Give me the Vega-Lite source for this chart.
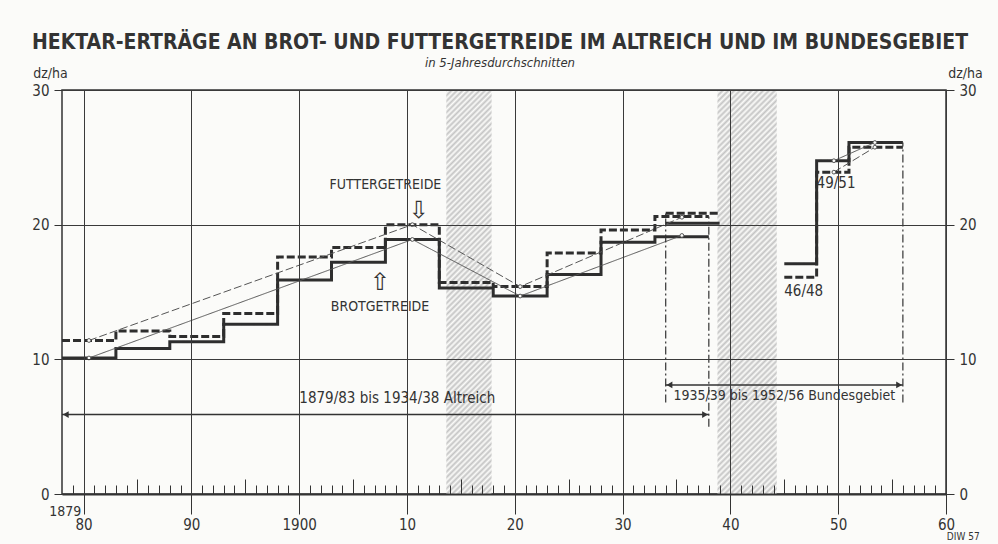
{
  "$schema": "https://vega.github.io/schema/vega-lite/v6.json",
  "width": 884,
  "height": 404,
  "autosize": {"type": "none"},
  "padding": {"left": 62, "top": 90, "right": 52, "bottom": 50},
  "background": "#fbfbf9",
  "config": {
    "font": "DejaVu Sans Condensed, Liberation Sans Narrow, sans-serif",
    "view": {"stroke": "#333333", "strokeWidth": 1.5},
    "axis": {"labelColor": "#333333", "titleColor": "#333333", "labelFont": "DejaVu Sans Condensed, sans-serif", "titleFont": "DejaVu Sans Condensed, sans-serif", "titleFontWeight": "normal"}
  },
  "title": {
    "text": "HEKTAR-ERTRÄGE AN BROT- UND FUTTERGETREIDE IM ALTREICH UND IM BUNDESGEBIET",
    "subtitle": "in 5-Jahresdurchschnitten",
    "anchor": "middle",
    "dx": -4,
    "offset": -4,
    "font": "DejaVu Sans Condensed, sans-serif",
    "fontSize": 21,
    "fontWeight": "bold",
    "color": "#333333",
    "subtitleFont": "DejaVu Sans Condensed, sans-serif",
    "subtitleFontSize": 13,
    "subtitleFontStyle": "italic",
    "subtitleColor": "#333333",
    "subtitlePadding": 4
  },
  "datasets": {
    "wars": [
      {"war": "1914-18", "start": 1913.65, "end": 1917.85},
      {"war": "1939-45", "start": 1938.8, "end": 1944.3}
    ],
    "steps": [
      {"g": "Brot", "line": "BA", "x": 1878, "v": 10.1},
      {"g": "Brot", "line": "BA", "x": 1883, "v": 10.8},
      {"g": "Brot", "line": "BA", "x": 1888, "v": 11.3},
      {"g": "Brot", "line": "BA", "x": 1893, "v": 12.6},
      {"g": "Brot", "line": "BA", "x": 1898, "v": 15.9},
      {"g": "Brot", "line": "BA", "x": 1903, "v": 17.2},
      {"g": "Brot", "line": "BA", "x": 1908, "v": 18.9},
      {"g": "Brot", "line": "BA", "x": 1913, "v": 15.3},
      {"g": "Brot", "line": "BA", "x": 1918, "v": 14.7},
      {"g": "Brot", "line": "BA", "x": 1923, "v": 16.3},
      {"g": "Brot", "line": "BA", "x": 1928, "v": 18.7},
      {"g": "Brot", "line": "BA", "x": 1933, "v": 19.1},
      {"g": "Brot", "line": "BA", "x": 1938, "v": 19.1},
      {"g": "Futter", "line": "FA", "x": 1878, "v": 11.4},
      {"g": "Futter", "line": "FA", "x": 1883, "v": 12.1},
      {"g": "Futter", "line": "FA", "x": 1888, "v": 11.7},
      {"g": "Futter", "line": "FA", "x": 1893, "v": 13.4},
      {"g": "Futter", "line": "FA", "x": 1898, "v": 17.6},
      {"g": "Futter", "line": "FA", "x": 1903, "v": 18.3},
      {"g": "Futter", "line": "FA", "x": 1908, "v": 20.0},
      {"g": "Futter", "line": "FA", "x": 1913, "v": 15.7},
      {"g": "Futter", "line": "FA", "x": 1918, "v": 15.4},
      {"g": "Futter", "line": "FA", "x": 1923, "v": 17.9},
      {"g": "Futter", "line": "FA", "x": 1928, "v": 19.6},
      {"g": "Futter", "line": "FA", "x": 1933, "v": 20.6},
      {"g": "Futter", "line": "FA", "x": 1938, "v": 20.6},
      {"g": "Brot", "line": "BB1", "x": 1934, "v": 20.1},
      {"g": "Brot", "line": "BB1", "x": 1939, "v": 20.1},
      {"g": "Futter", "line": "FB1", "x": 1934, "v": 20.85},
      {"g": "Futter", "line": "FB1", "x": 1939, "v": 20.85},
      {"g": "Brot", "line": "BB2", "x": 1945, "v": 17.1},
      {"g": "Brot", "line": "BB2", "x": 1948, "v": 24.75},
      {"g": "Brot", "line": "BB2", "x": 1951, "v": 26.1},
      {"g": "Brot", "line": "BB2", "x": 1956, "v": 26.1},
      {"g": "Futter", "line": "FB2", "x": 1945, "v": 16.1},
      {"g": "Futter", "line": "FB2", "x": 1948, "v": 23.9},
      {"g": "Futter", "line": "FB2", "x": 1951, "v": 25.75},
      {"g": "Futter", "line": "FB2", "x": 1956, "v": 25.75}
    ],
    "trend": [
      {"g": "Brot", "line": "BA", "x": 1880.5, "v": 10.1},
      {"g": "Brot", "line": "BA", "x": 1910.5, "v": 18.9},
      {"g": "Brot", "line": "BA", "x": 1920.5, "v": 14.7},
      {"g": "Brot", "line": "BA", "x": 1935.5, "v": 19.2},
      {"g": "Futter", "line": "FA", "x": 1880.5, "v": 11.4},
      {"g": "Futter", "line": "FA", "x": 1910.5, "v": 20.0},
      {"g": "Futter", "line": "FA", "x": 1920.5, "v": 15.4},
      {"g": "Futter", "line": "FA", "x": 1935.5, "v": 20.55},
      {"g": "Brot", "line": "BB", "x": 1949.6, "v": 24.75},
      {"g": "Brot", "line": "BB", "x": 1953.4, "v": 26.1},
      {"g": "Futter", "line": "FB", "x": 1949.6, "v": 23.9},
      {"g": "Futter", "line": "FB", "x": 1953.4, "v": 25.75}
    ],
    "markers": [
      {"x": 1938, "a": 5.0, "b": 20.6},
      {"x": 1934, "a": 6.8, "b": 20.85},
      {"x": 1956, "a": 6.8, "b": 26.1}
    ],
    "spans": [
      {"span": "Altreich", "from": 1878, "to": 1938, "y": 5.9},
      {"span": "Bundesgebiet", "from": 1934, "to": 1956, "y": 8.1}
    ],
    "heads": [
      {"x": 1878.35, "y": 5.9, "dir": "left"},
      {"x": 1937.65, "y": 5.9, "dir": "right"},
      {"x": 1934.35, "y": 8.1, "dir": "left"},
      {"x": 1955.65, "y": 8.1, "dir": "right"}
    ]
  },
  "resolve": {"axis": {"x": "independent", "y": "independent"}},
  "layer": [
    {
      "data": {"name": "wars"},
      "transform": [{"filter": "datum.war == '1914-18'"}],
      "mark": {"type": "rect", "fill": {"gradient": "linear", "x1": 0, "y1": 0, "x2": 0.1232, "y2": 1.0983, "stops": [
        {"offset":0,"color":"#c4c4c4"},{"offset":0.00625,"color":"#fbfbf9"},{"offset":0.0125,"color":"#c4c4c4"},{"offset":0.01875,"color":"#fbfbf9"},{"offset":0.025,"color":"#c4c4c4"},{"offset":0.03125,"color":"#fbfbf9"},{"offset":0.0375,"color":"#c4c4c4"},{"offset":0.04375,"color":"#fbfbf9"},
        {"offset":0.05,"color":"#c4c4c4"},{"offset":0.05625,"color":"#fbfbf9"},{"offset":0.0625,"color":"#c4c4c4"},{"offset":0.06875,"color":"#fbfbf9"},{"offset":0.075,"color":"#c4c4c4"},{"offset":0.08125,"color":"#fbfbf9"},{"offset":0.0875,"color":"#c4c4c4"},{"offset":0.09375,"color":"#fbfbf9"},
        {"offset":0.1,"color":"#c4c4c4"},{"offset":0.10625,"color":"#fbfbf9"},{"offset":0.1125,"color":"#c4c4c4"},{"offset":0.11875,"color":"#fbfbf9"},{"offset":0.125,"color":"#c4c4c4"},{"offset":0.13125,"color":"#fbfbf9"},{"offset":0.1375,"color":"#c4c4c4"},{"offset":0.14375,"color":"#fbfbf9"},
        {"offset":0.15,"color":"#c4c4c4"},{"offset":0.15625,"color":"#fbfbf9"},{"offset":0.1625,"color":"#c4c4c4"},{"offset":0.16875,"color":"#fbfbf9"},{"offset":0.175,"color":"#c4c4c4"},{"offset":0.18125,"color":"#fbfbf9"},{"offset":0.1875,"color":"#c4c4c4"},{"offset":0.19375,"color":"#fbfbf9"},
        {"offset":0.2,"color":"#c4c4c4"},{"offset":0.20625,"color":"#fbfbf9"},{"offset":0.2125,"color":"#c4c4c4"},{"offset":0.21875,"color":"#fbfbf9"},{"offset":0.225,"color":"#c4c4c4"},{"offset":0.23125,"color":"#fbfbf9"},{"offset":0.2375,"color":"#c4c4c4"},{"offset":0.24375,"color":"#fbfbf9"},
        {"offset":0.25,"color":"#c4c4c4"},{"offset":0.25625,"color":"#fbfbf9"},{"offset":0.2625,"color":"#c4c4c4"},{"offset":0.26875,"color":"#fbfbf9"},{"offset":0.275,"color":"#c4c4c4"},{"offset":0.28125,"color":"#fbfbf9"},{"offset":0.2875,"color":"#c4c4c4"},{"offset":0.29375,"color":"#fbfbf9"},
        {"offset":0.3,"color":"#c4c4c4"},{"offset":0.30625,"color":"#fbfbf9"},{"offset":0.3125,"color":"#c4c4c4"},{"offset":0.31875,"color":"#fbfbf9"},{"offset":0.325,"color":"#c4c4c4"},{"offset":0.33125,"color":"#fbfbf9"},{"offset":0.3375,"color":"#c4c4c4"},{"offset":0.34375,"color":"#fbfbf9"},
        {"offset":0.35,"color":"#c4c4c4"},{"offset":0.35625,"color":"#fbfbf9"},{"offset":0.3625,"color":"#c4c4c4"},{"offset":0.36875,"color":"#fbfbf9"},{"offset":0.375,"color":"#c4c4c4"},{"offset":0.38125,"color":"#fbfbf9"},{"offset":0.3875,"color":"#c4c4c4"},{"offset":0.39375,"color":"#fbfbf9"},
        {"offset":0.4,"color":"#c4c4c4"},{"offset":0.40625,"color":"#fbfbf9"},{"offset":0.4125,"color":"#c4c4c4"},{"offset":0.41875,"color":"#fbfbf9"},{"offset":0.425,"color":"#c4c4c4"},{"offset":0.43125,"color":"#fbfbf9"},{"offset":0.4375,"color":"#c4c4c4"},{"offset":0.44375,"color":"#fbfbf9"},
        {"offset":0.45,"color":"#c4c4c4"},{"offset":0.45625,"color":"#fbfbf9"},{"offset":0.4625,"color":"#c4c4c4"},{"offset":0.46875,"color":"#fbfbf9"},{"offset":0.475,"color":"#c4c4c4"},{"offset":0.48125,"color":"#fbfbf9"},{"offset":0.4875,"color":"#c4c4c4"},{"offset":0.49375,"color":"#fbfbf9"},
        {"offset":0.5,"color":"#c4c4c4"},{"offset":0.50625,"color":"#fbfbf9"},{"offset":0.5125,"color":"#c4c4c4"},{"offset":0.51875,"color":"#fbfbf9"},{"offset":0.525,"color":"#c4c4c4"},{"offset":0.53125,"color":"#fbfbf9"},{"offset":0.5375,"color":"#c4c4c4"},{"offset":0.54375,"color":"#fbfbf9"},
        {"offset":0.55,"color":"#c4c4c4"},{"offset":0.55625,"color":"#fbfbf9"},{"offset":0.5625,"color":"#c4c4c4"},{"offset":0.56875,"color":"#fbfbf9"},{"offset":0.575,"color":"#c4c4c4"},{"offset":0.58125,"color":"#fbfbf9"},{"offset":0.5875,"color":"#c4c4c4"},{"offset":0.59375,"color":"#fbfbf9"},
        {"offset":0.6,"color":"#c4c4c4"},{"offset":0.60625,"color":"#fbfbf9"},{"offset":0.6125,"color":"#c4c4c4"},{"offset":0.61875,"color":"#fbfbf9"},{"offset":0.625,"color":"#c4c4c4"},{"offset":0.63125,"color":"#fbfbf9"},{"offset":0.6375,"color":"#c4c4c4"},{"offset":0.64375,"color":"#fbfbf9"},
        {"offset":0.65,"color":"#c4c4c4"},{"offset":0.65625,"color":"#fbfbf9"},{"offset":0.6625,"color":"#c4c4c4"},{"offset":0.66875,"color":"#fbfbf9"},{"offset":0.675,"color":"#c4c4c4"},{"offset":0.68125,"color":"#fbfbf9"},{"offset":0.6875,"color":"#c4c4c4"},{"offset":0.69375,"color":"#fbfbf9"},
        {"offset":0.7,"color":"#c4c4c4"},{"offset":0.70625,"color":"#fbfbf9"},{"offset":0.7125,"color":"#c4c4c4"},{"offset":0.71875,"color":"#fbfbf9"},{"offset":0.725,"color":"#c4c4c4"},{"offset":0.73125,"color":"#fbfbf9"},{"offset":0.7375,"color":"#c4c4c4"},{"offset":0.74375,"color":"#fbfbf9"},
        {"offset":0.75,"color":"#c4c4c4"},{"offset":0.75625,"color":"#fbfbf9"},{"offset":0.7625,"color":"#c4c4c4"},{"offset":0.76875,"color":"#fbfbf9"},{"offset":0.775,"color":"#c4c4c4"},{"offset":0.78125,"color":"#fbfbf9"},{"offset":0.7875,"color":"#c4c4c4"},{"offset":0.79375,"color":"#fbfbf9"},
        {"offset":0.8,"color":"#c4c4c4"},{"offset":0.80625,"color":"#fbfbf9"},{"offset":0.8125,"color":"#c4c4c4"},{"offset":0.81875,"color":"#fbfbf9"},{"offset":0.825,"color":"#c4c4c4"},{"offset":0.83125,"color":"#fbfbf9"},{"offset":0.8375,"color":"#c4c4c4"},{"offset":0.84375,"color":"#fbfbf9"},
        {"offset":0.85,"color":"#c4c4c4"},{"offset":0.85625,"color":"#fbfbf9"},{"offset":0.8625,"color":"#c4c4c4"},{"offset":0.86875,"color":"#fbfbf9"},{"offset":0.875,"color":"#c4c4c4"},{"offset":0.88125,"color":"#fbfbf9"},{"offset":0.8875,"color":"#c4c4c4"},{"offset":0.89375,"color":"#fbfbf9"},
        {"offset":0.9,"color":"#c4c4c4"},{"offset":0.90625,"color":"#fbfbf9"},{"offset":0.9125,"color":"#c4c4c4"},{"offset":0.91875,"color":"#fbfbf9"},{"offset":0.925,"color":"#c4c4c4"},{"offset":0.93125,"color":"#fbfbf9"},{"offset":0.9375,"color":"#c4c4c4"},{"offset":0.94375,"color":"#fbfbf9"},
        {"offset":0.95,"color":"#c4c4c4"},{"offset":0.95625,"color":"#fbfbf9"},{"offset":0.9625,"color":"#c4c4c4"},{"offset":0.96875,"color":"#fbfbf9"},{"offset":0.975,"color":"#c4c4c4"},{"offset":0.98125,"color":"#fbfbf9"},{"offset":0.9875,"color":"#c4c4c4"},{"offset":0.99375,"color":"#fbfbf9"},
        {"offset":1,"color":"#c4c4c4"}
      ]}},
      "encoding": {
        "x": {"field": "start", "type": "quantitative", "scale": {"domain": [1878, 1960], "nice": false, "zero": false},
          "axis": {"orient": "bottom", "values": [1880, 1890, 1900, 1910, 1920, 1930, 1940, 1950, 1960], "labelExpr": "datum.value == 1900 ? '1900' : substring(toString(datum.value), 2, 4)", "labelFontSize": 15, "labelPadding": 3, "labelFlush": false, "labelOverlap": false, "tickSize": 20, "tickColor": "#333333", "tickWidth": 1, "domain": true, "domainColor": "#333333", "domainWidth": 2, "grid": true, "gridColor": "#3a3a3a", "gridWidth": 1, "gridOpacity": 1, "title": null, "zindex": 1}},
        "x2": {"field": "end"},
        "y": {"datum": 0, "type": "quantitative", "scale": {"domain": [0, 30], "nice": false},
          "axis": {"orient": "left", "values": [0, 10, 20, 30], "labelFontSize": 15, "labelPadding": 5, "tickSize": 8, "tickColor": "#333333", "domain": false, "grid": true, "gridColor": "#3a3a3a", "gridWidth": 1, "gridOpacity": 1, "title": "dz/ha", "titleAngle": 0, "titleAlign": "center", "titleBaseline": "bottom", "titleX": -12, "titleY": -10, "titleFontSize": 14, "zindex": 1}},
        "y2": {"datum": 30}
      }
    },
    {
      "data": {"name": "wars"},
      "transform": [{"filter": "datum.war == '1939-45'"}],
      "mark": {"type": "rect", "fill": {"gradient": "linear", "x1": 0, "y1": 0, "x2": 0.1647, "y2": 1.1226, "stops": [
        {"offset":0,"color":"#c4c4c4"},{"offset":0.00625,"color":"#fbfbf9"},{"offset":0.0125,"color":"#c4c4c4"},{"offset":0.01875,"color":"#fbfbf9"},{"offset":0.025,"color":"#c4c4c4"},{"offset":0.03125,"color":"#fbfbf9"},{"offset":0.0375,"color":"#c4c4c4"},{"offset":0.04375,"color":"#fbfbf9"},
        {"offset":0.05,"color":"#c4c4c4"},{"offset":0.05625,"color":"#fbfbf9"},{"offset":0.0625,"color":"#c4c4c4"},{"offset":0.06875,"color":"#fbfbf9"},{"offset":0.075,"color":"#c4c4c4"},{"offset":0.08125,"color":"#fbfbf9"},{"offset":0.0875,"color":"#c4c4c4"},{"offset":0.09375,"color":"#fbfbf9"},
        {"offset":0.1,"color":"#c4c4c4"},{"offset":0.10625,"color":"#fbfbf9"},{"offset":0.1125,"color":"#c4c4c4"},{"offset":0.11875,"color":"#fbfbf9"},{"offset":0.125,"color":"#c4c4c4"},{"offset":0.13125,"color":"#fbfbf9"},{"offset":0.1375,"color":"#c4c4c4"},{"offset":0.14375,"color":"#fbfbf9"},
        {"offset":0.15,"color":"#c4c4c4"},{"offset":0.15625,"color":"#fbfbf9"},{"offset":0.1625,"color":"#c4c4c4"},{"offset":0.16875,"color":"#fbfbf9"},{"offset":0.175,"color":"#c4c4c4"},{"offset":0.18125,"color":"#fbfbf9"},{"offset":0.1875,"color":"#c4c4c4"},{"offset":0.19375,"color":"#fbfbf9"},
        {"offset":0.2,"color":"#c4c4c4"},{"offset":0.20625,"color":"#fbfbf9"},{"offset":0.2125,"color":"#c4c4c4"},{"offset":0.21875,"color":"#fbfbf9"},{"offset":0.225,"color":"#c4c4c4"},{"offset":0.23125,"color":"#fbfbf9"},{"offset":0.2375,"color":"#c4c4c4"},{"offset":0.24375,"color":"#fbfbf9"},
        {"offset":0.25,"color":"#c4c4c4"},{"offset":0.25625,"color":"#fbfbf9"},{"offset":0.2625,"color":"#c4c4c4"},{"offset":0.26875,"color":"#fbfbf9"},{"offset":0.275,"color":"#c4c4c4"},{"offset":0.28125,"color":"#fbfbf9"},{"offset":0.2875,"color":"#c4c4c4"},{"offset":0.29375,"color":"#fbfbf9"},
        {"offset":0.3,"color":"#c4c4c4"},{"offset":0.30625,"color":"#fbfbf9"},{"offset":0.3125,"color":"#c4c4c4"},{"offset":0.31875,"color":"#fbfbf9"},{"offset":0.325,"color":"#c4c4c4"},{"offset":0.33125,"color":"#fbfbf9"},{"offset":0.3375,"color":"#c4c4c4"},{"offset":0.34375,"color":"#fbfbf9"},
        {"offset":0.35,"color":"#c4c4c4"},{"offset":0.35625,"color":"#fbfbf9"},{"offset":0.3625,"color":"#c4c4c4"},{"offset":0.36875,"color":"#fbfbf9"},{"offset":0.375,"color":"#c4c4c4"},{"offset":0.38125,"color":"#fbfbf9"},{"offset":0.3875,"color":"#c4c4c4"},{"offset":0.39375,"color":"#fbfbf9"},
        {"offset":0.4,"color":"#c4c4c4"},{"offset":0.40625,"color":"#fbfbf9"},{"offset":0.4125,"color":"#c4c4c4"},{"offset":0.41875,"color":"#fbfbf9"},{"offset":0.425,"color":"#c4c4c4"},{"offset":0.43125,"color":"#fbfbf9"},{"offset":0.4375,"color":"#c4c4c4"},{"offset":0.44375,"color":"#fbfbf9"},
        {"offset":0.45,"color":"#c4c4c4"},{"offset":0.45625,"color":"#fbfbf9"},{"offset":0.4625,"color":"#c4c4c4"},{"offset":0.46875,"color":"#fbfbf9"},{"offset":0.475,"color":"#c4c4c4"},{"offset":0.48125,"color":"#fbfbf9"},{"offset":0.4875,"color":"#c4c4c4"},{"offset":0.49375,"color":"#fbfbf9"},
        {"offset":0.5,"color":"#c4c4c4"},{"offset":0.50625,"color":"#fbfbf9"},{"offset":0.5125,"color":"#c4c4c4"},{"offset":0.51875,"color":"#fbfbf9"},{"offset":0.525,"color":"#c4c4c4"},{"offset":0.53125,"color":"#fbfbf9"},{"offset":0.5375,"color":"#c4c4c4"},{"offset":0.54375,"color":"#fbfbf9"},
        {"offset":0.55,"color":"#c4c4c4"},{"offset":0.55625,"color":"#fbfbf9"},{"offset":0.5625,"color":"#c4c4c4"},{"offset":0.56875,"color":"#fbfbf9"},{"offset":0.575,"color":"#c4c4c4"},{"offset":0.58125,"color":"#fbfbf9"},{"offset":0.5875,"color":"#c4c4c4"},{"offset":0.59375,"color":"#fbfbf9"},
        {"offset":0.6,"color":"#c4c4c4"},{"offset":0.60625,"color":"#fbfbf9"},{"offset":0.6125,"color":"#c4c4c4"},{"offset":0.61875,"color":"#fbfbf9"},{"offset":0.625,"color":"#c4c4c4"},{"offset":0.63125,"color":"#fbfbf9"},{"offset":0.6375,"color":"#c4c4c4"},{"offset":0.64375,"color":"#fbfbf9"},
        {"offset":0.65,"color":"#c4c4c4"},{"offset":0.65625,"color":"#fbfbf9"},{"offset":0.6625,"color":"#c4c4c4"},{"offset":0.66875,"color":"#fbfbf9"},{"offset":0.675,"color":"#c4c4c4"},{"offset":0.68125,"color":"#fbfbf9"},{"offset":0.6875,"color":"#c4c4c4"},{"offset":0.69375,"color":"#fbfbf9"},
        {"offset":0.7,"color":"#c4c4c4"},{"offset":0.70625,"color":"#fbfbf9"},{"offset":0.7125,"color":"#c4c4c4"},{"offset":0.71875,"color":"#fbfbf9"},{"offset":0.725,"color":"#c4c4c4"},{"offset":0.73125,"color":"#fbfbf9"},{"offset":0.7375,"color":"#c4c4c4"},{"offset":0.74375,"color":"#fbfbf9"},
        {"offset":0.75,"color":"#c4c4c4"},{"offset":0.75625,"color":"#fbfbf9"},{"offset":0.7625,"color":"#c4c4c4"},{"offset":0.76875,"color":"#fbfbf9"},{"offset":0.775,"color":"#c4c4c4"},{"offset":0.78125,"color":"#fbfbf9"},{"offset":0.7875,"color":"#c4c4c4"},{"offset":0.79375,"color":"#fbfbf9"},
        {"offset":0.8,"color":"#c4c4c4"},{"offset":0.80625,"color":"#fbfbf9"},{"offset":0.8125,"color":"#c4c4c4"},{"offset":0.81875,"color":"#fbfbf9"},{"offset":0.825,"color":"#c4c4c4"},{"offset":0.83125,"color":"#fbfbf9"},{"offset":0.8375,"color":"#c4c4c4"},{"offset":0.84375,"color":"#fbfbf9"},
        {"offset":0.85,"color":"#c4c4c4"},{"offset":0.85625,"color":"#fbfbf9"},{"offset":0.8625,"color":"#c4c4c4"},{"offset":0.86875,"color":"#fbfbf9"},{"offset":0.875,"color":"#c4c4c4"},{"offset":0.88125,"color":"#fbfbf9"},{"offset":0.8875,"color":"#c4c4c4"},{"offset":0.89375,"color":"#fbfbf9"},
        {"offset":0.9,"color":"#c4c4c4"},{"offset":0.90625,"color":"#fbfbf9"},{"offset":0.9125,"color":"#c4c4c4"},{"offset":0.91875,"color":"#fbfbf9"},{"offset":0.925,"color":"#c4c4c4"},{"offset":0.93125,"color":"#fbfbf9"},{"offset":0.9375,"color":"#c4c4c4"},{"offset":0.94375,"color":"#fbfbf9"},
        {"offset":0.95,"color":"#c4c4c4"},{"offset":0.95625,"color":"#fbfbf9"},{"offset":0.9625,"color":"#c4c4c4"},{"offset":0.96875,"color":"#fbfbf9"},{"offset":0.975,"color":"#c4c4c4"},{"offset":0.98125,"color":"#fbfbf9"},{"offset":0.9875,"color":"#c4c4c4"},{"offset":0.99375,"color":"#fbfbf9"},
        {"offset":1,"color":"#c4c4c4"}
      ]}},
      "encoding": {
        "x": {"field": "start", "type": "quantitative",
          "axis": {"orient": "bottom", "values": [1879, 1881, 1882, 1883, 1884, 1886, 1887, 1888, 1889, 1891, 1892, 1893, 1894, 1896, 1897, 1898, 1899, 1901, 1902, 1903, 1904, 1906, 1907, 1908, 1909, 1911, 1912, 1913, 1914, 1916, 1917, 1918, 1919, 1921, 1922, 1923, 1924, 1926, 1927, 1928, 1929, 1931, 1932, 1933, 1934, 1936, 1937, 1938, 1939, 1941, 1942, 1943, 1944, 1946, 1947, 1948, 1949, 1951, 1952, 1953, 1954, 1956, 1957, 1958, 1959], "labels": false, "domain": false, "grid": false, "tickSize": -9, "tickColor": "#333333", "tickWidth": 1, "title": null, "zindex": 1}},
        "x2": {"field": "end"},
        "y": {"datum": 0, "type": "quantitative",
          "axis": {"orient": "right", "values": [0, 10, 20, 30], "labelFontSize": 15, "labelPadding": 5, "tickSize": 8, "tickColor": "#333333", "domain": false, "grid": false, "title": "dz/ha", "titleAngle": 0, "titleAlign": "center", "titleBaseline": "bottom", "titleX": 19, "titleY": -10, "titleFontSize": 14, "zindex": 1}},
        "y2": {"datum": 30}
      }
    },
    {
      "data": {"name": "steps"},
      "mark": {"type": "line", "interpolate": "step-after", "strokeWidth": 3, "color": "#2e2e2e", "strokeCap": "butt", "strokeJoin": "miter"},
      "encoding": {
        "x": {"field": "x", "type": "quantitative",
          "axis": {"orient": "bottom", "values": [1885, 1895, 1905, 1915, 1925, 1935, 1945, 1955], "labels": false, "domain": false, "grid": false, "tickSize": -15, "tickColor": "#333333", "tickWidth": 1, "title": null, "zindex": 1}},
        "y": {"field": "v", "type": "quantitative", "axis": null},
        "detail": {"field": "line"},
        "strokeDash": {"field": "g", "type": "nominal", "scale": {"domain": ["Brot", "Futter"], "range": [[1, 0], [8, 3]]}, "legend": null}
      }
    },
    {
      "data": {"name": "trend"},
      "mark": {"type": "line", "strokeWidth": 1, "color": "#555555"},
      "encoding": {
        "x": {"field": "x", "type": "quantitative", "axis": null},
        "y": {"field": "v", "type": "quantitative", "axis": null},
        "detail": {"field": "line"},
        "strokeDash": {"field": "g", "type": "nominal", "scale": {"domain": ["Brot", "Futter"], "range": [[1, 0], [7, 4]]}, "legend": null}
      }
    },
    {
      "data": {"name": "trend"},
      "mark": {"type": "point", "filled": true, "fill": "#fbfbf9", "stroke": "#555555", "strokeWidth": 1, "size": 14, "opacity": 1},
      "encoding": {
        "x": {"field": "x", "type": "quantitative", "axis": null},
        "y": {"field": "v", "type": "quantitative", "axis": null}
      }
    },
    {
      "data": {"name": "markers"},
      "mark": {"type": "rule", "color": "#333333", "strokeWidth": 1.2, "strokeDash": [8, 3, 2, 3]},
      "encoding": {
        "x": {"field": "x", "type": "quantitative", "axis": null},
        "y": {"field": "a", "type": "quantitative", "axis": null},
        "y2": {"field": "b"}
      }
    },
    {
      "data": {"name": "spans"},
      "mark": {"type": "rule", "color": "#333333", "strokeWidth": 1.5},
      "encoding": {
        "x": {"field": "from", "type": "quantitative", "axis": null},
        "x2": {"field": "to"},
        "y": {"field": "y", "type": "quantitative", "axis": null}
      }
    },
    {
      "data": {"name": "heads"},
      "mark": {"type": "point", "filled": true, "color": "#333333", "size": 45, "opacity": 1},
      "encoding": {
        "x": {"field": "x", "type": "quantitative", "axis": null},
        "y": {"field": "y", "type": "quantitative", "axis": null},
        "shape": {"field": "dir", "type": "nominal", "scale": {"domain": ["left", "right"], "range": ["triangle-left", "triangle-right"]}, "legend": null}
      }
    },
    {
      "data": {"values": [
        {"x": 1911.1, "y": 21.0, "t": "⇩"},
        {"x": 1907.5, "y": 15.7, "t": "⇧"}
      ]},
      "mark": {"type": "text", "fontSize": 24, "font": "DejaVu Sans", "color": "#333333", "align": "center", "baseline": "middle"},
      "encoding": {
        "x": {"field": "x", "type": "quantitative", "axis": null},
        "y": {"field": "y", "type": "quantitative", "axis": null},
        "text": {"field": "t"}
      }
    },
    {
      "data": {"values": [
        {"x": 1909.1, "y": 7.1, "t": "1879/83 bis 1934/38 Altreich"}
      ]},
      "mark": {"type": "text", "fontSize": 15, "color": "#333333", "align": "center", "baseline": "middle"},
      "encoding": {
        "x": {"field": "x", "type": "quantitative", "axis": null},
        "y": {"field": "y", "type": "quantitative", "axis": null},
        "text": {"field": "t"}
      }
    },
    {
      "data": {"values": [
        {"x": 1945.0, "y": 7.3, "t": "1935/39 bis 1952/56 Bundesgebiet"}
      ]},
      "mark": {"type": "text", "fontSize": 14, "color": "#333333", "align": "center", "baseline": "middle"},
      "encoding": {
        "x": {"field": "x", "type": "quantitative", "axis": null},
        "y": {"field": "y", "type": "quantitative", "axis": null},
        "text": {"field": "t"}
      }
    },
    {
      "data": {"values": [
        {"x": 1908.0, "y": 22.95, "t": "FUTTERGETREIDE"},
        {"x": 1907.5, "y": 13.9, "t": "BROTGETREIDE"}
      ]},
      "mark": {"type": "text", "fontSize": 14, "color": "#333333", "align": "center", "baseline": "middle"},
      "encoding": {
        "x": {"field": "x", "type": "quantitative", "axis": null},
        "y": {"field": "y", "type": "quantitative", "axis": null},
        "text": {"field": "t"}
      }
    },
    {
      "data": {"values": [
        {"x": 1946.8, "y": 15.1, "t": "46/48"},
        {"x": 1949.8, "y": 23.1, "t": "49/51"}
      ]},
      "mark": {"type": "text", "fontSize": 15, "color": "#333333", "align": "center", "baseline": "middle"},
      "encoding": {
        "x": {"field": "x", "type": "quantitative", "axis": null},
        "y": {"field": "y", "type": "quantitative", "axis": null},
        "text": {"field": "t"}
      }
    },
    {
      "data": {"values": [
        {"x": 1878.3, "y": -1.3, "t": "1879"}
      ]},
      "mark": {"type": "text", "fontSize": 14, "color": "#333333", "align": "center", "baseline": "middle"},
      "encoding": {
        "x": {"field": "x", "type": "quantitative", "axis": null},
        "y": {"field": "y", "type": "quantitative", "axis": null},
        "text": {"field": "t"}
      }
    },
    {
      "data": {"values": [
        {"x": 1961.6, "y": -3.2, "t": "DIW 57"}
      ]},
      "mark": {"type": "text", "fontSize": 10, "color": "#333333", "align": "center", "baseline": "middle"},
      "encoding": {
        "x": {"field": "x", "type": "quantitative", "axis": null},
        "y": {"field": "y", "type": "quantitative", "axis": null},
        "text": {"field": "t"}
      }
    }
  ]
}
